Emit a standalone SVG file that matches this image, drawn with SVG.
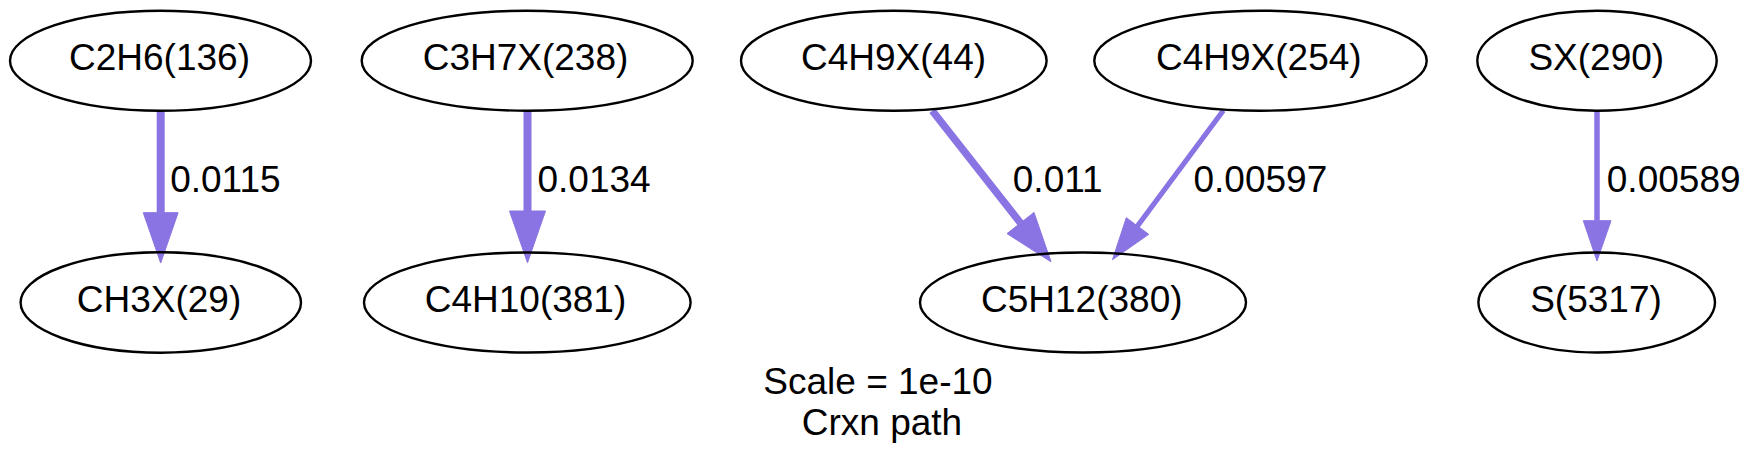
<svg xmlns="http://www.w3.org/2000/svg" width="1755" height="469" viewBox="0 0 1755 469">
<style>
  .node ellipse { fill: none; stroke: #000; stroke-width: 2.4; }
  .node text { font-family: "Liberation Sans", Arial, sans-serif; font-size: 37px; text-anchor: middle; fill: #000; }
  .edge line { stroke: #8a73e2; fill: none; }
  .edge polygon { fill: #8a73e2; stroke: #8a73e2; stroke-width: 1; }
  .lbl { font-family: "Liberation Sans", Arial, sans-serif; font-size: 37px; fill: #000; }
  .title { font-family: "Liberation Sans", Arial, sans-serif; font-size: 37px; fill: #000; text-anchor: middle; }
</style>
<rect width="1755" height="469" fill="#fff"/>
<g id="edges">
  <g class="edge" id="e1">
    <line x1="160.7" y1="110.7" x2="160.7" y2="212.7" stroke-width="8"/>
    <polygon points="143.3,212.7 178.1,212.7 160.7,263"/>
    <text class="lbl" x="170.2" y="191.7">0.0115</text>
  </g>
  <g class="edge" id="e2">
    <line x1="527.5" y1="110.7" x2="527.5" y2="211" stroke-width="8"/>
    <polygon points="509.5,211 545.5,211 527.5,262.7"/>
    <text class="lbl" x="537.5" y="191.7">0.0134</text>
  </g>
  <g class="edge" id="e3">
    <line x1="932.3" y1="110.7" x2="1020.5" y2="223" stroke-width="7.5"/>
    <polygon points="1034,212.4 1007,233.6 1051,261.8"/>
    <text class="lbl" x="1012.8" y="191.7">0.011</text>
  </g>
  <g class="edge" id="e4">
    <line x1="1223.3" y1="110.5" x2="1137.5" y2="226" stroke-width="5.2"/>
    <polygon points="1148.7,234.3 1126.3,217.7 1112.5,259.7"/>
    <text class="lbl" x="1193.5" y="191.7">0.00597</text>
  </g>
  <g class="edge" id="e5">
    <line x1="1597" y1="110.7" x2="1597" y2="220.7" stroke-width="5.5"/>
    <polygon points="1583.3,220.7 1611,220.7 1597,261"/>
    <text class="lbl" x="1606.8" y="191.7">0.00589</text>
  </g>
</g>
<g class="node" id="n_C2H6_136"><ellipse cx="160.5" cy="60.7" rx="150.5" ry="50"/><text x="159.5" y="70">C2H6(136)</text></g>
<g class="node" id="n_CH3X_29"><ellipse cx="160.8" cy="302.5" rx="140.2" ry="50.2"/><text x="159" y="311.7">CH3X(29)</text></g>
<g class="node" id="n_C3H7X_238"><ellipse cx="527.2" cy="60.7" rx="165.5" ry="50"/><text x="525.5" y="70">C3H7X(238)</text></g>
<g class="node" id="n_C4H10_381"><ellipse cx="527.3" cy="302.5" rx="163.3" ry="50"/><text x="525.5" y="311.7">C4H10(381)</text></g>
<g class="node" id="n_C4H9X_44"><ellipse cx="893.8" cy="60.7" rx="152.8" ry="50"/><text x="893.5" y="70">C4H9X(44)</text></g>
<g class="node" id="n_C4H9X_254"><ellipse cx="1260.5" cy="60.7" rx="166.2" ry="50"/><text x="1258.8" y="70">C4H9X(254)</text></g>
<g class="node" id="n_C5H12_380"><ellipse cx="1083" cy="302.5" rx="163" ry="50"/><text x="1081.8" y="311.7">C5H12(380)</text></g>
<g class="node" id="n_SX_290"><ellipse cx="1597" cy="60.7" rx="119.7" ry="50"/><text x="1596.3" y="70">SX(290)</text></g>
<g class="node" id="n_S_5317"><ellipse cx="1596.7" cy="302.5" rx="118.3" ry="50"/><text x="1596" y="311.7">S(5317)</text></g>
<g id="legend">
  <text class="title" x="878" y="394.3">Scale = 1e-10</text>
  <text class="title" x="882" y="435">Crxn path</text>
</g>
</svg>
